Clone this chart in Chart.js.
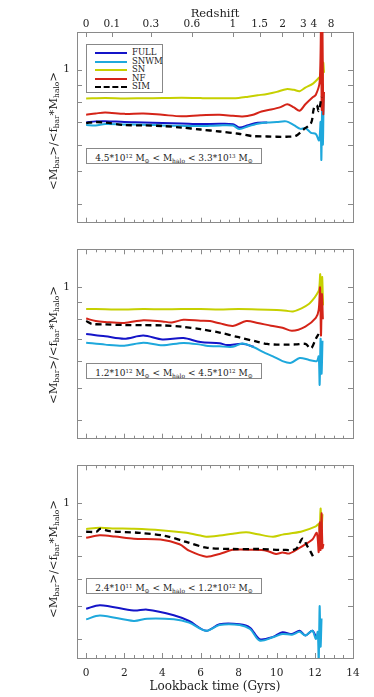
<!DOCTYPE html>
<html>
<head>
<meta charset="utf-8">
<script src="https://cdn.jsdelivr.net/npm/chart.js@4/dist/chart.umd.min.js"></script>
<style>
  body { margin: 0; background: #fff; }
  #wrap { position: relative; width: 374px; height: 697px; overflow: hidden; font-family: 'DejaVu Serif', serif; color: #222; }
  canvas { position: absolute; left: 0; }
  .ytitle { position: absolute; left: 53px; transform: translate(-50%, -50%) rotate(-90deg); white-space: nowrap; font-size: 11.5px; }
  .ytitle sub { font-size: 7.5px; vertical-align: -2px; }
  .mass { position: absolute; left: 86px; width: 174px; height: 14px; border: 1px solid #888; background: #fff;
          font-size: 9px; line-height: 14px; text-align: center; white-space: nowrap; }
  .mass sup { font-size: 5.5px; vertical-align: 3px; }
  .mass sub { font-size: 6px; vertical-align: -1.5px; }
  .legend { position: absolute; left: 86px; top: 44px; width: 75px; height: 47px; border: 1px solid #888; background: #fff; }
  .legend .row { position: absolute; left: 8px; height: 8px; font-size: 8.5px; line-height: 8px; }
  .legend .ln { position: absolute; left: 0; top: 4px; width: 32px; border-top: 2px solid; }
  .legend .tx { position: absolute; left: 37px; top: 0; }
</style>
</head>
<body>
<div id="wrap">
  <canvas id="c1" width="374" height="236" style="top:0"></canvas>
  <canvas id="c2" width="374" height="216" style="top:236px"></canvas>
  <canvas id="c3" width="374" height="245" style="top:452px"></canvas>

  <div class="ytitle" style="top:131px">&lt;M<sub>bar</sub>&gt;/&lt;f<sub>bar</sub>*M<sub>halo</sub>&gt;</div>
  <div class="ytitle" style="top:345px">&lt;M<sub>bar</sub>&gt;/&lt;f<sub>bar</sub>*M<sub>halo</sub>&gt;</div>
  <div class="ytitle" style="top:559px">&lt;M<sub>bar</sub>&gt;/&lt;f<sub>bar</sub>*M<sub>halo</sub>&gt;</div>

  <div class="legend" id="legend"></div>

  <div class="mass" style="top:148px">4.5*10<sup>12</sup> M<sub>&#8857;</sub> &lt; M<sub>halo</sub> &lt; 3.3*10<sup>13</sup> M<sub>&#8857;</sub></div>
  <div class="mass" style="top:363px">1.2*10<sup>12</sup> M<sub>&#8857;</sub> &lt; M<sub>halo</sub> &lt; 4.5*10<sup>12</sup> M<sub>&#8857;</sub></div>
  <div class="mass" style="top:578px">2.4*10<sup>11</sup> M<sub>&#8857;</sub> &lt; M<sub>halo</sub> &lt; 1.2*10<sup>12</sup> M<sub>&#8857;</sub></div>
</div>

<script>
// series names and colours
const seriesNames = ['FULL', 'SNWM', 'SN', 'NF', 'SIM'];
const seriesColors = ['#1414c8', '#1ea8dc', '#c6d000', '#d42418', '#000000'];

// top axis (panel 1): redshift labels at their lookback time
const redshiftLabels = ['0', '0.1', '0.3', '0.6', '1', '1.5', '2', '3', '4', '8'];
const redshiftTimes = [0, 1.35, 3.4, 5.55, 7.7, 9.1, 10.3, 11.4, 11.95, 12.85];

// y ticks (log axis), only 1 is labelled
const yTicks = [0.4, 0.5, 0.6, 0.7, 0.8, 0.9, 1];

// ---- panel 1: 4.5e12 < Mhalo < 3.3e13 ----
const p1FullT = [0, 0.5, 1, 2, 3, 4, 5, 6, 7, 7.7, 8.05, 8.5, 9.0, 9.5];
const p1FullV = [0.698, 0.703, 0.704, 0.70, 0.698, 0.695, 0.693, 0.69, 0.692, 0.69, 0.674, 0.685, 0.696, 0.698];
const p1SnwmT = [0, 0.5, 1, 2, 3, 4, 5, 6, 7, 7.7, 8.05, 8.5, 9.0, 9.5, 10, 10.5, 10.9, 11.25, 11.5, 11.8, 12.05, 12.22, 12.3, 12.34, 12.38, 12.42, 12.46];
const p1SnwmV = [0.686, 0.684, 0.69, 0.688, 0.687, 0.684, 0.682, 0.681, 0.684, 0.683, 0.667, 0.68, 0.692, 0.698, 0.70, 0.703, 0.685, 0.668, 0.672, 0.65, 0.645, 0.617, 0.70, 0.54, 0.76, 0.60, 0.84];
const p1SnT = [0, 1, 2, 3, 4, 5, 6, 7, 8, 8.5, 9, 9.5, 10, 10.5, 10.9, 11.2, 11.5, 11.9, 12.2, 12.3, 12.36, 12.4, 12.44, 12.48];
const p1SnV = [0.822, 0.824, 0.822, 0.823, 0.824, 0.826, 0.824, 0.823, 0.825, 0.832, 0.84, 0.848, 0.86, 0.876, 0.872, 0.864, 0.885, 0.91, 0.945, 0.96, 1.19, 0.93, 1.05, 0.98];
const p1NfT = [0, 0.5, 1, 2, 3, 4, 5, 6, 7, 7.7, 8.2, 8.7, 9.2, 9.7, 10.2, 10.55, 10.9, 11.2, 11.5, 11.9, 12.05, 12.25, 12.32, 12.36, 12.4, 12.44, 12.48];
const p1NfV = [0.736, 0.742, 0.747, 0.74, 0.742, 0.735, 0.728, 0.733, 0.735, 0.73, 0.727, 0.734, 0.752, 0.762, 0.775, 0.79, 0.773, 0.756, 0.79, 0.83, 0.843, 0.92, 1.35, 0.76, 1.3, 0.74, 0.86];
const p1SimT = [0, 0.5, 1, 2, 3, 4, 5, 6, 7, 8, 8.7, 9.5, 10, 10.5, 11, 11.4, 11.8, 11.95, 12.1, 12.2, 12.35];
const p1SimV = [0.695, 0.70, 0.697, 0.686, 0.684, 0.681, 0.674, 0.665, 0.656, 0.646, 0.636, 0.634, 0.633, 0.633, 0.637, 0.665, 0.695, 0.77, 0.785, 0.755, 0.83];

// ---- panel 2: 1.2e12 < Mhalo < 4.5e12 ----
const p2FullT = [0, 0.5, 1, 2, 3, 4, 5.1, 6, 7, 7.4, 8.2, 8.8];
const p2FullV = [0.723, 0.717, 0.712, 0.70, 0.715, 0.696, 0.703, 0.684, 0.678, 0.67, 0.676, 0.662];
const p2SnwmT = [0, 1, 2, 3, 4, 5.1, 6, 6.3, 7, 7.7, 8.2, 8.8, 9.3, 9.8, 10.3, 10.75, 11.2, 11.7, 12.1, 12.2, 12.25, 12.3, 12.35, 12.4];
const p2SnwmV = [0.681, 0.672, 0.667, 0.681, 0.669, 0.68, 0.672, 0.667, 0.664, 0.662, 0.677, 0.66, 0.638, 0.62, 0.60, 0.593, 0.613, 0.605, 0.60, 0.62, 0.51, 0.70, 0.55, 0.69];
const p2SnT = [0, 1, 2, 3, 4, 5, 6, 7, 8, 9, 10, 10.5, 10.85, 11.3, 11.7, 11.9, 12.1, 12.22, 12.28, 12.33, 12.38, 12.43];
const p2SnV = [0.859, 0.857, 0.855, 0.858, 0.857, 0.858, 0.858, 0.856, 0.858, 0.856, 0.852, 0.848, 0.844, 0.862, 0.89, 0.915, 0.95, 0.98, 1.09, 0.87, 1.07, 0.88];
const p2NfT = [0, 0.5, 1, 2, 3, 4, 4.5, 5.1, 6, 6.5, 7, 7.7, 8.4, 9, 9.7, 10.3, 10.8, 11.5, 12.05, 12.2, 12.27, 12.32, 12.37, 12.42];
const p2NfV = [0.804, 0.79, 0.785, 0.78, 0.795, 0.788, 0.783, 0.797, 0.792, 0.79, 0.778, 0.764, 0.79, 0.78, 0.765, 0.755, 0.739, 0.761, 0.808, 0.853, 0.995, 0.715, 0.95, 0.80];
const p2SimT = [0, 0.3, 1, 2, 3, 4, 5, 6, 7, 8, 9, 9.5, 10, 10.5, 11, 11.5, 11.8, 12.05, 12.2];
const p2SimV = [0.79, 0.775, 0.772, 0.769, 0.768, 0.767, 0.76, 0.747, 0.73, 0.707, 0.685, 0.675, 0.672, 0.672, 0.673, 0.675, 0.655, 0.70, 0.723];

// ---- panel 3: 2.4e11 < Mhalo < 1.2e12 ----
const p3FullT = [0, 0.73, 2.5, 3.2, 4.6, 5.4, 6.3, 7, 8.05, 8.6, 9.1, 9.8, 10.3, 10.8, 11.2, 11.5, 11.87, 12.1];
const p3FullV = [0.491, 0.503, 0.485, 0.488, 0.47, 0.452, 0.423, 0.442, 0.442, 0.432, 0.40, 0.406, 0.419, 0.414, 0.423, 0.41, 0.423, 0.40];
const p3SnwmT = [0, 0.73, 2.5, 3.2, 4.6, 5.4, 6.3, 7, 8.05, 8.6, 9.1, 9.8, 10.3, 10.8, 11.2, 11.5, 11.87, 12.05, 12.15, 12.2, 12.25, 12.3, 12.35];
const p3SnwmV = [0.457, 0.469, 0.452, 0.459, 0.457, 0.447, 0.423, 0.44, 0.44, 0.428, 0.396, 0.405, 0.414, 0.412, 0.42, 0.41, 0.423, 0.40, 0.42, 0.34, 0.50, 0.38, 0.46];
const p3SnT = [0, 0.7, 1.5, 2.5, 3.9, 5.25, 6, 6.3, 7, 7.7, 8.4, 9, 9.8, 10.3, 10.7, 11.35, 12.05, 12.2, 12.25, 12.3, 12.35, 12.4];
const p3SnV = [0.842, 0.848, 0.845, 0.843, 0.835, 0.82, 0.805, 0.799, 0.805, 0.815, 0.823, 0.812, 0.799, 0.81, 0.816, 0.829, 0.857, 0.87, 0.83, 0.967, 0.85, 0.93];
const p3NfT = [0, 0.7, 1.5, 2.5, 3.9, 4.9, 5.4, 6.3, 7, 7.7, 8.75, 9.45, 9.96, 10.3, 10.66, 11.35, 11.87, 12.1, 12.2, 12.25, 12.3, 12.35, 12.4, 12.45];
const p3NfV = [0.793, 0.806, 0.80, 0.788, 0.784, 0.759, 0.727, 0.698, 0.711, 0.731, 0.731, 0.727, 0.711, 0.718, 0.713, 0.75, 0.784, 0.82, 0.72, 0.88, 0.73, 0.936, 0.74, 0.76];
const p3SimT = [0, 0.55, 0.73, 1.25, 2.8, 4.2, 5.25, 6.3, 7.7, 9.1, 10.3, 11.0, 11.35, 11.6, 11.78, 11.95];
const p3SimV = [0.826, 0.826, 0.842, 0.829, 0.82, 0.802, 0.771, 0.742, 0.735, 0.735, 0.731, 0.735, 0.788, 0.75, 0.721, 0.69];

const AXIS = '#8a8a8a';
const FONT = 'DejaVu Serif';
const X_MIN = -0.48, X_MAX = 14;
const Y_MIN = 0.352, Y_MAX = 1.294;

function pts(t, v) { return t.map((x, i) => ({ x: x, y: v[i] })); }

function makeSets(list) {
  // list in legend order; lower 'order' is drawn on top, so SIM ends up on top
  return list.map((p, i) => ({
    label: seriesNames[i],
    data: pts(p[0], p[1]),
    borderColor: seriesColors[i],
    borderWidth: i === 4 ? 2.3 : 2,
    borderDash: i === 4 ? [6, 4] : [],
    pointRadius: 0,
    tension: 0.3,
    fill: false,
    order: 5 - i
  }));
}

function halfSteps() {
  const out = [];
  for (let v = 0; v <= X_MAX; v += 0.5) out.push({ value: v, big: v % 2 === 0 });
  return out;
}

// ticks pointing inward, taken from each scale
const innerTicks = {
  id: 'innerTicks',
  afterDraw(chart) {
    const { ctx, chartArea: a } = chart;
    ctx.save();
    ctx.strokeStyle = AXIS;
    ctx.lineWidth = 1;
    Object.values(chart.scales).forEach(s => {
      s.ticks.forEach(t => {
        const p = Math.round(s.getPixelForValue(t.value)) + 0.5;
        const len = t.big ? 5 : 3;
        ctx.beginPath();
        if (s.id === 'x') { ctx.moveTo(p, a.bottom); ctx.lineTo(p, a.bottom - len); }
        if (s.id === 'x2') { ctx.moveTo(p, a.top); ctx.lineTo(p, a.top + len); }
        if (s.id === 'y') { ctx.moveTo(a.left, p); ctx.lineTo(a.left + len, p); }
        if (s.id === 'y2') { ctx.moveTo(a.right, p); ctx.lineTo(a.right - len, p); }
        ctx.stroke();
      });
    });
    ctx.restore();
  }
};

function makePanel(id, sets, topH, bottomH, isTop, isBottom) {
  const border = { display: true, color: AXIS, width: 1 };
  const grid = { display: false, drawTicks: false };
  return new Chart(document.getElementById(id), {
    type: 'line',
    data: { datasets: sets },
    options: {
      responsive: false,
      animation: false,
      layout: { padding: 0 },
      plugins: { legend: { display: false }, tooltip: { enabled: false } },
      scales: {
        x: {
          type: 'linear', position: 'bottom', min: X_MIN, max: X_MAX,
          border: border, grid: grid,
          afterBuildTicks: s => { s.ticks = halfSteps(); },
          afterFit: s => { s.height = bottomH; },
          ticks: {
            display: isBottom, autoSkip: false, maxRotation: 0, padding: 9,
            color: '#222', font: { family: FONT, size: 10.5 },
            callback: v => (v % 2 === 0 ? String(v) : '')
          },
          title: { display: isBottom, text: 'Lookback time (Gyrs)', color: '#222',
                   font: { family: FONT, size: 12 }, padding: { top: 0, bottom: 3 } }
        },
        x2: {
          type: 'linear', position: 'top', min: X_MIN, max: X_MAX,
          border: border, grid: grid,
          afterBuildTicks: s => {
            s.ticks = isTop ? redshiftTimes.map(v => ({ value: v, big: true })) : halfSteps();
          },
          afterFit: s => { s.height = topH; },
          ticks: {
            display: isTop, autoSkip: false, maxRotation: 0, padding: 1,
            color: '#222', font: { family: FONT, size: 10.5 },
            callback: (v, i) => (isTop ? redshiftLabels[i] : '')
          },
          title: { display: isTop, text: 'Redshift', color: '#222',
                   font: { family: FONT, size: 11.5 }, padding: { top: 7, bottom: 0 } }
        },
        y: {
          type: 'logarithmic', position: 'left', min: Y_MIN, max: Y_MAX,
          border: border, grid: grid,
          afterBuildTicks: s => { s.ticks = yTicks.map(v => ({ value: v, big: true })); },
          afterFit: s => { s.width = 77; },
          ticks: {
            autoSkip: false, padding: 7, color: '#222', font: { family: FONT, size: 10.5 },
            callback: v => (v === 1 ? '1' : '')
          }
        },
        y2: {
          type: 'logarithmic', position: 'right', min: Y_MIN, max: Y_MAX,
          border: border, grid: grid,
          afterBuildTicks: s => { s.ticks = yTicks.map(v => ({ value: v, big: true })); },
          afterFit: s => { s.width = 21; },
          ticks: { display: false }
        }
      }
    },
    plugins: [innerTicks]
  });
}

makePanel('c1', makeSets([[p1FullT, p1FullV], [p1SnwmT, p1SnwmV], [p1SnT, p1SnV], [p1NfT, p1NfV], [p1SimT, p1SimV]]), 32, 7, true, false);
makePanel('c2', makeSets([[p2FullT, p2FullV], [p2SnwmT, p2SnwmV], [p2SnT, p2SnV], [p2NfT, p2NfV], [p2SimT, p2SimV]]), 11, 8, false, false);
makePanel('c3', makeSets([[p3FullT, p3FullV], [p3SnwmT, p3SnwmV], [p3SnT, p3SnV], [p3NfT, p3NfV], [p3SimT, p3SimV]]), 9, 39, false, true);

// legend box in panel 1
const legend = document.getElementById('legend');
legend.innerHTML = seriesNames.map((n, i) => {
  const style = i === 4 ? 'border-top-style:dashed;border-top-width:2.5px' : '';
  return `<div class="row" style="top:${3 + i * 8.5}px"><span class="ln" style="border-color:${seriesColors[i]};${style}"></span><span class="tx">${n}</span></div>`;
}).join('');
</script>
</body>
</html>
